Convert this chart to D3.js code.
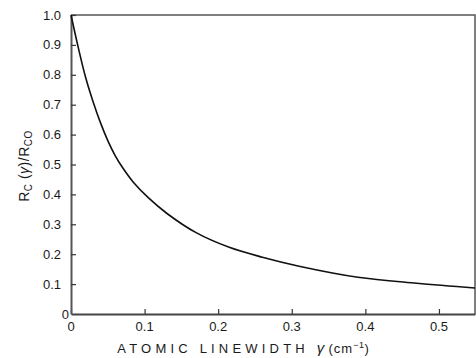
<!DOCTYPE html>
<html>
<head>
<meta charset="utf-8">
<script src="https://cdn.jsdelivr.net/npm/d3@7"></script>
<style>
  body { margin: 0; background: #fff; }
  svg { display: block; font-family: "Liberation Sans", "DejaVu Sans", sans-serif; }
</style>
</head>
<body>
<div id="viz"></div>
<script>
const width = 476;
const height = 358;
const margin = {top: 15, right: 1, bottom: 44, left: 71};

// Values
const gammaValues = [0, 0.01, 0.02, 0.03, 0.04, 0.05, 0.06, 0.07, 0.085, 0.105, 0.13, 0.17, 0.215, 0.26, 0.31, 0.39, 0.47, 0.549];
const ratioValues = [1.0, 0.89, 0.79, 0.71, 0.64, 0.58, 0.53, 0.49, 0.44, 0.389, 0.337, 0.272, 0.223, 0.19, 0.16, 0.123, 0.103, 0.087];
const xTicks = [0, 0.1, 0.2, 0.3, 0.4, 0.5];
const yTicks = [0.1, 0.2, 0.3, 0.4, 0.5, 0.6, 0.7, 0.8, 0.9, 1.0];

const data = gammaValues.map((g, i) => ({g: g, r: ratioValues[i]}));

const scaleX = d3.scaleLinear()
  .domain([0, 0.549])
  .range([margin.left, width - margin.right]);

const scaleY = d3.scaleLinear()
  .domain([0, 1])
  .range([height - margin.bottom, margin.top]);

const svg = d3.select('#viz')
  .append('svg')
    .attr('width', width)
    .attr('height', height);

// Frame (top and right edges)
svg.append('path')
  .attr('d', `M${scaleX(0)},${scaleY(1)}H${scaleX(0.549)}V${scaleY(0)}`)
  .attr('fill', 'none')
  .attr('stroke', '#555')
  .attr('stroke-width', 1.5);

// X axis, ticks pointing inward
const xAxis = svg.append('g')
  .attr('transform', `translate(0,${scaleY(0)})`)
  .call(d3.axisTop(scaleX).tickValues(xTicks).tickSize(5).tickSizeOuter(0).tickFormat(''));
xAxis.select('.domain').attr('stroke', '#444').attr('stroke-width', 2);
xAxis.selectAll('.tick line').attr('stroke', '#333').attr('stroke-width', 1.2);

svg.append('g')
  .selectAll('text')
  .data(xTicks)
  .join('text')
    .attr('x', d => scaleX(d))
    .attr('y', scaleY(0) + 17)
    .attr('text-anchor', 'middle')
    .attr('font-size', 13)
    .attr('fill', '#1a1a1a')
    .text(d => d === 0 ? '0' : d3.format('.1f')(d));

// Y axis, ticks pointing inward
const yAxis = svg.append('g')
  .attr('transform', `translate(${scaleX(0)},0)`)
  .call(d3.axisRight(scaleY).tickValues(yTicks).tickSize(5).tickSizeOuter(0).tickFormat(''));
yAxis.select('.domain').attr('stroke', '#555').attr('stroke-width', 2);
yAxis.selectAll('.tick line').attr('stroke', '#333').attr('stroke-width', 1.2);

svg.append('g')
  .selectAll('text')
  .data([0].concat(yTicks))
  .join('text')
    .attr('x', d => d === 0 ? scaleX(0) - 2 : scaleX(0) - 10)
    .attr('y', d => scaleY(d) + 4.5)
    .attr('text-anchor', 'end')
    .attr('font-size', 13)
    .attr('fill', '#1a1a1a')
    .text(d => d === 0 ? '0' : d3.format('.1f')(d));

// Curve
const line = d3.line()
  .x(d => scaleX(d.g))
  .y(d => scaleY(d.r))
  .curve(d3.curveCatmullRom.alpha(0.5));

svg.append('path')
  .datum(data)
  .attr('d', line)
  .attr('fill', 'none')
  .attr('stroke', '#111')
  .attr('stroke-width', 1.6);

// Axis labels
const xLabel = svg.append('text')
  .attr('x', 243)
  .attr('y', 353)
  .attr('text-anchor', 'middle')
  .attr('font-size', 13)
  .attr('letter-spacing', 4.2)
  .attr('fill', '#1a1a1a');
xLabel.append('tspan').text('ATOMIC LINEWIDTH ');
xLabel.append('tspan').attr('font-style', 'italic').attr('font-size', 15).text('γ');
xLabel.append('tspan').attr('letter-spacing', 1).text('(cm');
xLabel.append('tspan').attr('dy', -5).attr('font-size', 9).attr('letter-spacing', 0.5).text('−1');
xLabel.append('tspan').attr('dy', 5).attr('letter-spacing', 0).text(')');

const yLabel = svg.append('text')
  .attr('transform', `translate(29,166) rotate(-90)`)
  .attr('text-anchor', 'middle')
  .attr('font-size', 14)
  .attr('letter-spacing', 0.5)
  .attr('fill', '#1a1a1a');
yLabel.append('tspan').text('R');
yLabel.append('tspan').attr('dy', 3).attr('font-size', 10).text('C');
yLabel.append('tspan').attr('dy', -3).text(' (');
yLabel.append('tspan').attr('font-style', 'italic').text('γ');
yLabel.append('tspan').text(')/R');
yLabel.append('tspan').attr('dy', 3).attr('font-size', 10).text('CO');
</script>
</body>
</html>
